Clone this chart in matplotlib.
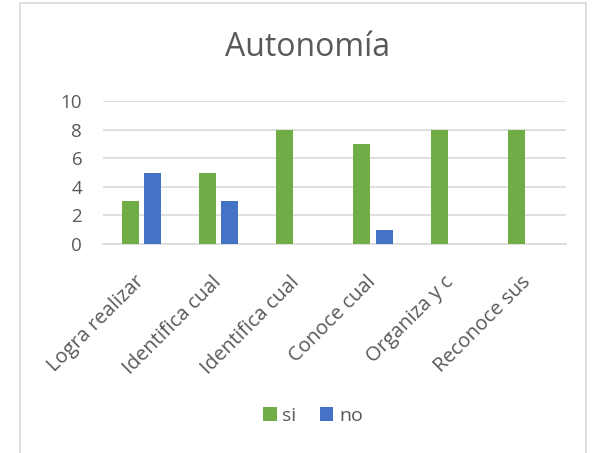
import matplotlib
matplotlib.use("Agg")
import matplotlib.pyplot as plt
import matplotlib.transforms as mtransforms
from matplotlib.patches import Rectangle
import numpy as np

categories = ["Logra realizar", "Identifica cual", "Identifica cual", "Conoce cual", "Organiza y c", "Reconoce sus"]
si_values = [3, 5, 8, 7, 8, 8]
no_values = [5, 3, 0, 1, 0, 0]
yticks = [0, 2, 4, 6, 8, 10]

plt.rcParams['font.family'] = ['Open Sans', 'DejaVu Sans']
TXT = '#595959'

fig = plt.figure(figsize=(5.99, 4.53), dpi=100)
fig.patches.append(Rectangle((20/599, -0.05), (586-20)/599, 1.05 - 3/453, transform=fig.transFigure,
                             fill=False, edgecolor='#D9D9D9', linewidth=1.2))
ax = fig.add_axes([103/599, 1-244/453, (566-103)/599, (244-101)/453])

x = np.arange(len(categories))
w = 0.22
off = 0.145
ax.bar(x - off, si_values, w, color='#70AD47', label='si', zorder=3)
ax.bar(x + off, no_values, w, color='#4472C4', label='no', zorder=3)

ax.set_xlim(-0.5, len(categories) - 0.5)
ax.set_ylim(0, 10)
ax.set_yticks(yticks)
ax.set_yticklabels([str(v) for v in yticks], fontsize=13.5, color=TXT)
ax.set_xticks(x)
ax.set_xticklabels([])
shift = mtransforms.ScaledTranslation(-7/100, -28/100, fig.dpi_scale_trans)
for xi, name in zip(x, categories):
    ax.text(xi, 0, name, transform=ax.get_xaxis_transform() + shift, rotation=45,
            ha='right', va='top', rotation_mode='anchor', fontsize=14.5, color=TXT, clip_on=False)
ax.tick_params(axis='both', length=0)
ax.tick_params(axis='y', pad=15)
ax.grid(axis='y', color='#D9D9D9', linewidth=1.2, zorder=0)
for s in ['top', 'right', 'left']:
    ax.spines[s].set_visible(False)
ax.spines['bottom'].set_color('#D9D9D9')
ax.spines['bottom'].set_linewidth(1.2)

fig.text(308/599, 1-48/453, 'Autonomía', ha='center', va='center', fontsize=23, color=TXT)

fig.legend(loc='center', bbox_to_anchor=(313/599, 1-416/453), ncol=2, frameon=False, fontsize=14,
           handlelength=0.7, handleheight=0.7, handletextpad=0.3, columnspacing=1.2, labelcolor=TXT)

fig.savefig('out.png', dpi=100)
